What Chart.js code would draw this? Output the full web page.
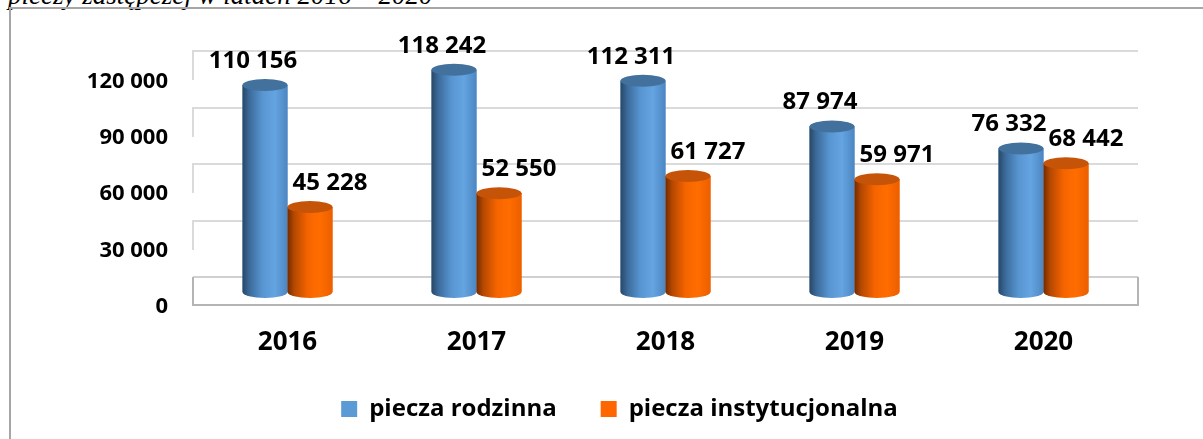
<!DOCTYPE html>
<html lang="pl">
<head>
<meta charset="utf-8">
<title>Piecza zastępcza 2016–2020</title>
<script src="https://cdn.jsdelivr.net/npm/chart.js@4.4.1/dist/chart.umd.min.js"></script>
<style>
  html, body { margin: 0; padding: 0; background: #fff; overflow: hidden; }
  #wrap { position: relative; width: 1203px; height: 439px; overflow: hidden; }
  .caption {
    position: absolute; left: 8px; top: -18px;
    font: italic 27px/27px "Liberation Serif", "Times New Roman", serif;
    white-space: nowrap; color: #000;
  }
  .frame {
    position: absolute; left: 9px; top: 7px; width: 1300px; height: 500px;
    border-left: 2px solid #a6a6a6; border-top: 2px solid #a6a6a6;
  }
  canvas { position: absolute; left: 0; top: 0; }
</style>
</head>
<body>
<div id="wrap">
  <div class="caption">pieczy zastępczej w latach 2016 – 2020</div>
  <div class="frame"></div>
  <canvas id="careChart" width="1203" height="439"></canvas>
</div>
<script>
  // dane z wykresu
  const years = ['2016', '2017', '2018', '2019', '2020'];
  const seriesNames = ['piecza rodzinna', 'piecza instytucjonalna'];
  const familyCare = [110156, 118242, 112311, 87974, 76332];
  const institutionalCare = [45228, 52550, 61727, 59971, 68442];
  const yTicks = [0, 30000, 60000, 90000, 120000];

  const depth = 15;      // przesunięcie tylnej ściany / przodu podłogi (efekt 3D)
  const capRy = 6;       // wysokość elipsy walca

  const shades = [
    {
      solid: '#5b9bd5',
      cap: '#41719c',
      body: [[0, '#284766'], [0.15, '#3b6a9a'], [0.45, '#5896d2'], [0.72, '#64a4e1'], [1, '#4c86c2']]
    },
    {
      solid: '#ff6600',
      cap: '#c55408',
      body: [[0, '#742b00'], [0.15, '#b54800'], [0.45, '#f66400'], [0.72, '#ff6d00'], [1, '#ec5f00']]
    }
  ];
  const labelShiftX = [-12, 20];

  function fmt(v) {
    return String(v).replace(/\B(?=(\d{3})+(?!\d))/g, ' ');
  }

  Chart.defaults.font.family = '"Open Sans", sans-serif';
  Chart.defaults.color = '#000';

  // tylna ściana z liniami siatki i podłoga
  const wallPlugin = {
    id: 'wall',
    beforeDatasetsDraw(chart) {
      const { ctx, chartArea: area, scales: { y } } = chart;
      ctx.save();
      ctx.lineWidth = 2;
      yTicks.forEach(function (v) {
        if (v === 0) return;
        const py = Math.round(y.getPixelForValue(v)) - depth;
        ctx.strokeStyle = '#dadada';
        ctx.beginPath();
        ctx.moveTo(area.left, py + 2 * depth - 1);
        ctx.lineTo(area.left, py);
        ctx.lineTo(area.right, py);
        ctx.stroke();
      });
      const p0 = Math.round(y.getPixelForValue(0));
      ctx.strokeStyle = '#d0d0d0';
      ctx.beginPath();
      ctx.moveTo(area.left, p0 - depth);
      ctx.lineTo(area.right, p0 - depth);
      ctx.stroke();
      ctx.strokeStyle = '#b4b4b4';
      ctx.beginPath();
      ctx.moveTo(area.left, p0 - depth);
      ctx.lineTo(area.left, p0 + depth - 2);
      ctx.lineTo(area.right, p0 + depth - 2);
      ctx.lineTo(area.right, p0 - depth);
      ctx.stroke();
      ctx.restore();
    }
  };

  // walce rysowane na podstawie elementów słupków
  const cylinderPlugin = {
    id: 'cylinders',
    afterDatasetsDraw(chart) {
      const ctx = chart.ctx;
      ctx.save();
      chart.data.datasets.forEach(function (ds, di) {
        const meta = chart.getDatasetMeta(di);
        const shade = shades[di];
        meta.data.forEach(function (bar) {
          const { x, y, base, width } = bar.getProps(['x', 'y', 'base', 'width'], true);
          const l = x - width / 2, r = x + width / 2, rx = width / 2;
          const g = ctx.createLinearGradient(l, 0, r, 0);
          shade.body.forEach(function (s) { g.addColorStop(s[0], s[1]); });
          ctx.fillStyle = g;
          ctx.beginPath();
          ctx.moveTo(l, y);
          ctx.lineTo(l, base);
          ctx.ellipse(x, base, rx, capRy, 0, Math.PI, 0, true);
          ctx.lineTo(r, y);
          ctx.closePath();
          ctx.fill();

          ctx.fillStyle = shade.cap;
          ctx.beginPath();
          ctx.ellipse(x, y, rx, capRy, 0, 0, Math.PI * 2);
          ctx.fill();
        });
      });
      ctx.restore();
    }
  };

  // etykiety wartości nad walcami
  const valueLabelPlugin = {
    id: 'valueLabels',
    afterDatasetsDraw(chart) {
      const ctx = chart.ctx;
      ctx.save();
      ctx.font = 'bold 24px "Open Sans", sans-serif';
      ctx.fillStyle = '#000';
      ctx.textAlign = 'center';
      ctx.textBaseline = 'middle';
      chart.data.datasets.forEach(function (ds, di) {
        chart.getDatasetMeta(di).data.forEach(function (bar, i) {
          ctx.fillText(fmt(ds.data[i]), bar.x + labelShiftX[di], bar.y - 24);
        });
      });
      ctx.restore();
    }
  };

  new Chart(document.getElementById('careChart'), {
    type: 'bar',
    data: {
      labels: years,
      datasets: [
        {
          label: seriesNames[0],
          data: familyCare,
          backgroundColor: shades[0].solid,
          borderWidth: 0
        },
        {
          label: seriesNames[1],
          data: institutionalCare,
          backgroundColor: shades[1].solid,
          borderWidth: 0
        }
      ]
    },
    options: {
      responsive: false,
      animation: false,
      events: [],
      layout: {
        padding: { left: 36, right: 0, top: 27, bottom: 8 }
      },
      datasets: {
        bar: { categoryPercentage: 90 / 189, barPercentage: 1 }
      },
      plugins: {
        tooltip: { enabled: false },
        legend: {
          position: 'bottom',
          labels: {
            boxWidth: 16,
            boxHeight: 16,
            padding: 44,
            color: '#000',
            font: { size: 24, weight: 'bold' }
          }
        }
      },
      scales: {
        x: {
          grid: { display: false, drawTicks: false },
          border: { display: false },
          ticks: {
            padding: 35,
            color: '#000',
            font: { size: 26, weight: 'bold' }
          },
          afterFit: function (scale) { scale.height = 61; }
        },
        y: {
          min: 0,
          max: 135000,
          grid: { display: false, drawTicks: false },
          border: { display: false },
          afterBuildTicks: function (axis) {
            axis.ticks = yTicks.map(function (v) { return { value: v }; });
          },
          ticks: {
            padding: 25,
            labelOffset: depth,
            color: '#000',
            font: { size: 22, weight: 'bold' },
            callback: function (v) { return fmt(v); }
          },
          afterFit: function (scale) { scale.width = 157; }
        },
        // pusta oś po prawej – tylko margines, żeby legenda była przesunięta jak w oryginale
        yRight: {
          type: 'linear',
          axis: 'y',
          position: 'right',
          grid: { display: false, drawTicks: false },
          border: { display: false },
          ticks: { display: false },
          afterFit: function (scale) { scale.width = 65; }
        }
      }
    },
    plugins: [wallPlugin, cylinderPlugin, valueLabelPlugin]
  });
</script>
</body>
</html>
